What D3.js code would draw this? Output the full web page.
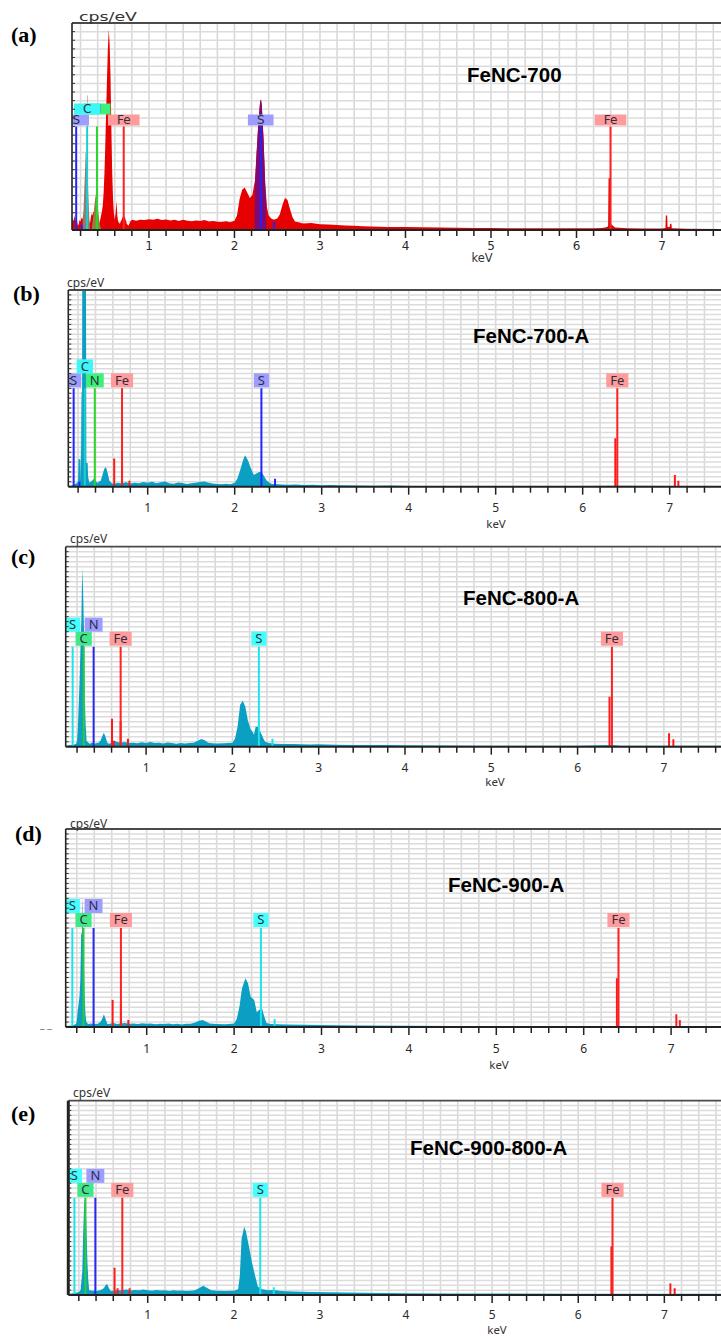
<!DOCTYPE html>
<html>
<head>
<meta charset="utf-8">
<script src="https://cdn.jsdelivr.net/npm/d3@7"></script>
<style>
  html, body { margin: 0; padding: 0; background: #fff; }
  svg { display: block; }
</style>
</head>
<body>
<svg id="chart" width="721" height="1336"></svg>
<script>
// EDS spectra of five FeNC samples, redrawn with D3.

// --- Data: spectra [keV, %] ---
const specA = [[0.10,3],[0.11,6],[0.12,4],[0.13,7],[0.14,5],[0.15,3],[0.16,4],[0.17,2],[0.18,3],[0.19,5],[0.20,4],[0.21,6],[0.22,5],[0.23,7],[0.24,8],[0.25,6],[0.26,5],[0.27,6],[0.28,7],[0.29,5],[0.30,4],[0.31,3],[0.32,6],[0.33,8],[0.34,7],[0.35,9],[0.36,8],[0.37,6],[0.38,5],[0.39,7],[0.40,5],[0.41,4],[0.42,3],[0.43,5],[0.44,7],[0.45,9],[0.46,12],[0.47,18],[0.48,28],[0.49,42],[0.50,58],[0.51,74],[0.52,88],[0.53,97],[0.54,90],[0.55,75],[0.56,50],[0.57,28],[0.58,15],[0.59,8],[0.60,5],[0.61,8],[0.62,14],[0.63,7],[0.64,4],[0.66,3],[0.68,5],[0.70,7],[0.72,6],[0.74,3],[0.76,2],[0.78,4],[0.80,5],[0.85,4.5],[0.90,5],[0.95,4.8],[1.00,5.2],[1.05,5],[1.10,5.4],[1.15,4.8],[1.20,5.1],[1.25,4.6],[1.30,5],[1.35,4.4],[1.40,4.9],[1.45,4.5],[1.50,4.2],[1.55,4.6],[1.60,4.3],[1.65,4.8],[1.70,4.1],[1.75,4.4],[1.80,4.0],[1.85,3.9],[1.90,4.2],[1.95,3.8],[2.00,4.5],[2.03,7],[2.06,15],[2.09,19.5],[2.12,20.5],[2.15,18],[2.18,15.5],[2.21,17],[2.24,24],[2.26,38],[2.28,52],[2.30,62],[2.31,63],[2.32,60],[2.34,44],[2.36,22],[2.38,11],[2.40,7],[2.43,5.5],[2.46,5],[2.50,5.5],[2.53,7.5],[2.56,12],[2.59,15.5],[2.62,14.5],[2.65,10],[2.68,6],[2.71,4],[2.75,3.8],[2.80,3.2],[2.90,3.4],[3.00,2.8],[3.10,2.6],[3.20,2.4],[3.30,2.2],[3.40,2.0],[3.50,1.8],[3.60,1.7],[3.80,1.5],[4.00,1.4],[4.20,1.3],[4.40,1.2],[4.60,1.1],[4.80,1.0],[5.00,1.0],[5.20,0.9],[5.50,0.9],[5.80,0.8],[6.00,0.8],[6.20,0.8],[6.30,1],[6.36,1.5],[6.37,2],[6.375,25],[6.395,25],[6.40,3],[6.45,1.2],[6.60,0.8],[6.80,0.7],[7.00,0.7],[7.04,1],[7.045,7],[7.06,7],[7.065,1.5],[7.09,1.5],[7.095,3],[7.11,3],[7.115,0.8],[7.30,0.6],[7.70,0.5]];
const sPeakA = [[2.235,0],[2.24,22],[2.26,38],[2.28,52],[2.30,62],[2.31,63],[2.32,60],[2.34,44],[2.36,22],[2.37,15],[2.375,0]];
const cPeakA = [[0.22,0],[0.235,10],[0.25,26],[0.26,38],[0.27,35],[0.278,28],[0.279,65],[0.285,65],[0.286,24],[0.29,18],[0.30,8],[0.31,0]];
const nPeakA = [[0.33,0],[0.35,7],[0.37,15],[0.385,18.5],[0.40,12],[0.42,4],[0.44,0]];

const specB = [[0.09,0.5],[0.12,0.5],[0.15,1],[0.17,1.5],[0.19,2],[0.20,3],[0.205,14],[0.225,14],[0.23,3],[0.235,48],[0.24,48],[0.245,10],[0.248,120],[0.29,120],[0.295,12],[0.31,12],[0.315,5],[0.33,2],[0.36,3],[0.38,4],[0.40,3],[0.42,2],[0.44,2.5],[0.46,3],[0.48,6],[0.50,9],[0.52,10],[0.54,7],[0.56,3],[0.58,2],[0.60,1.5],[0.62,1.5],[0.65,2],[0.70,1.8],[0.75,2.2],[0.80,1.6],[0.85,2],[0.90,1.8],[0.95,2.4],[1.00,2],[1.05,2.5],[1.10,1.8],[1.15,2.2],[1.20,2.6],[1.25,1.8],[1.30,1.5],[1.35,2.1],[1.40,1.9],[1.45,1.4],[1.50,1.7],[1.55,2],[1.60,2.4],[1.65,2.6],[1.70,2],[1.75,1.6],[1.80,1.4],[1.85,1.2],[1.90,1.5],[1.95,1.3],[2.00,2],[2.03,4],[2.06,8],[2.08,11],[2.10,14],[2.12,16],[2.14,14.5],[2.16,12.5],[2.18,10],[2.20,8],[2.22,6],[2.24,6.5],[2.26,7],[2.28,7.5],[2.31,7.5],[2.33,6],[2.35,4.4],[2.37,3],[2.40,2],[2.43,1.4],[2.50,1.2],[2.60,1],[2.70,1.1],[2.80,0.9],[2.90,1],[3.00,0.8],[3.10,0.9],[3.20,0.7],[3.40,0.6],[3.60,0.5],[3.80,0.6],[4.00,0.4],[4.50,0.4],[5.00,0.3],[6.00,0.3],[6.40,0.5],[7.00,0.3],[7.60,0.3]];

const specC = [[0.07,0.5],[0.12,0.8],[0.16,1],[0.19,1.5],[0.20,3],[0.21,10],[0.22,22],[0.23,34],[0.24,50],[0.25,64],[0.26,89.5],[0.27,78],[0.28,59],[0.29,24],[0.30,11],[0.31,3],[0.33,2],[0.35,1.5],[0.37,2],[0.40,1.5],[0.43,1.8],[0.45,2],[0.47,3],[0.49,5],[0.51,7],[0.53,5],[0.55,2],[0.57,1.5],[0.60,2],[0.63,3],[0.66,2.5],[0.70,2],[0.75,2.4],[0.80,1.8],[0.85,2],[0.90,1.7],[0.95,2.2],[1.00,1.9],[1.05,2.3],[1.10,1.8],[1.15,2],[1.20,1.6],[1.25,2.1],[1.30,1.8],[1.35,1.5],[1.40,1.9],[1.45,1.6],[1.50,1.8],[1.55,2],[1.60,3],[1.64,3.8],[1.68,3.2],[1.72,2],[1.80,1.6],[1.90,1.7],[2.00,2],[2.03,4],[2.06,10],[2.09,21],[2.12,23],[2.15,20],[2.18,13],[2.21,9],[2.24,7],[2.25,6],[2.27,10],[2.30,10],[2.32,8],[2.34,6],[2.36,4],[2.38,2.5],[2.42,1.8],[2.50,1.5],[2.60,1.4],[2.70,1.3],[2.80,1.2],[2.90,1.1],[3.00,1.2],[3.20,1],[3.40,0.9],[3.60,0.8],[3.80,0.9],[4.00,0.7],[4.50,0.6],[5.00,0.5],[5.50,0.5],[6.00,0.5],[6.40,0.8],[6.50,0.5],[7.00,0.5],[7.30,0.5],[7.70,0.5]];

const specD = [[0.07,0.5],[0.15,0.8],[0.19,1.5],[0.20,3],[0.21,8],[0.23,15],[0.24,23],[0.25,46.5],[0.26,48],[0.265,66],[0.27,56],[0.28,35],[0.29,16],[0.30,6],[0.31,2.5],[0.33,1.5],[0.36,1.8],[0.40,1.5],[0.44,1.6],[0.47,2.5],[0.49,4],[0.51,6.4],[0.53,4],[0.55,1.5],[0.58,1.6],[0.62,2],[0.66,1.5],[0.70,1.8],[0.75,2],[0.80,1.6],[0.85,1.8],[0.90,1.5],[0.95,1.9],[1.00,1.6],[1.05,1.8],[1.10,1.4],[1.15,1.7],[1.20,1.5],[1.25,1.8],[1.30,1.4],[1.35,1.6],[1.40,1.3],[1.45,1.6],[1.50,1.7],[1.55,2.2],[1.60,3.2],[1.64,3.5],[1.68,2.6],[1.72,1.8],[1.80,1.5],[1.90,1.4],[2.00,1.8],[2.03,4],[2.06,10],[2.09,19.5],[2.13,24.6],[2.16,22],[2.19,15.3],[2.23,13.6],[2.26,7.5],[2.28,8.5],[2.32,9.4],[2.34,6],[2.37,2],[2.42,1.5],[2.50,1.4],[2.60,1.2],[2.80,1.1],[3.00,1],[3.20,0.9],[3.50,0.8],[4.00,0.6],[4.50,0.5],[5.00,0.4],[6.00,0.4],[6.50,0.4],[7.00,0.4],[7.60,0.4]];

const specE = [[0.08,0.5],[0.15,1],[0.20,1.5],[0.22,2.5],[0.24,12],[0.25,31],[0.265,50.6],[0.285,39.5],[0.30,17],[0.31,7.7],[0.32,2.5],[0.36,2.2],[0.40,2],[0.45,2.5],[0.49,3.5],[0.51,5],[0.53,5.7],[0.55,3.5],[0.57,2],[0.60,2.2],[0.65,2.5],[0.70,2.4],[0.75,2.8],[0.80,2.3],[0.85,2.6],[0.90,2.4],[0.95,2.8],[1.00,2.5],[1.05,2.2],[1.10,2.6],[1.15,2.3],[1.20,2.5],[1.25,2.1],[1.30,2.4],[1.35,2.2],[1.40,2.3],[1.45,2],[1.50,2.2],[1.55,2.5],[1.60,3.6],[1.645,4.8],[1.69,3.6],[1.74,2.4],[1.80,2.2],[1.90,2],[2.00,2.2],[2.05,3],[2.07,10],[2.09,29],[2.12,35],[2.14,33],[2.18,24],[2.21,17],[2.25,9.4],[2.28,4.3],[2.33,3],[2.40,2.5],[2.47,2.6],[2.55,2],[2.70,1.8],[2.90,1.6],[3.10,1.4],[3.30,1.3],[3.50,1.1],[4.00,0.9],[4.50,0.8],[5.00,0.8],[6.00,0.7],[6.50,0.7],[7.00,0.6],[7.70,0.6]];

// --- Data: red Fe channels in the teal spectra [keV, %] ---
const feB = [[0.615,14.4],[0.705,12],[0.79,3],[6.375,24.6],[7.06,6],[7.10,3]];
const feC = [[0.605,14],[0.625,3],[0.705,12.5],[0.79,4],[6.37,25],[7.06,6.7],[7.11,3.7]];
const feD = [[0.61,13.6],[0.705,12],[0.79,3.5],[6.38,24.6],[7.06,6.4],[7.10,3.5]];
const feE = [[0.615,14],[0.65,3.5],[0.79,3.5],[6.385,25],[7.07,6],[7.12,3.5]];

// --- Data: element markers [element, keV, label row] ---
const markersA = [["S",0.149,0],["N",0.392,1],["C",0.277,1],["Fe",0.705,0],["S",2.307,0],["Fe",6.398,0]];
const markersB = [["S",0.149,0],["N",0.392,0],["C",0.277,1],["Fe",0.705,0],["S",2.307,0],["Fe",6.398,0]];
const markersCE = [["S",0.149,1],["N",0.392,1],["C",0.277,0],["Fe",0.705,0],["S",2.307,0],["Fe",6.398,0]];
// minor S lines shown as short stubs [keV, %]
const stubsAB = [[0.215,2.5],[2.464,4]];
const stubsCE = [[2.464,4]];

const tickLabels = ["1","2","3","4","5","6","7"];
const sampleNames = ["FeNC-700","FeNC-700-A","FeNC-800-A","FeNC-900-A","FeNC-900-800-A"];
const panelTags = ["(a)","(b)","(c)","(d)","(e)"];

// --- Styles ---
const W = 721;
const TEAL = "#0b9fc3";
const schemeAB = {
  S:  { box: "#9d9dff", line: "#2323ff" },
  C:  { box: "#3cf7f7", line: "#1ccfcf" },
  N:  { box: "#3cf07a", line: "#2ad62a" },
  Fe: { box: "#ff9b9b", line: "#ff2222" }
};
const schemeCE = {
  S:  { box: "#45ffff", line: "#1fe3ea" },
  C:  { box: "#40e88a", line: "#2bcc3a" },
  N:  { box: "#9d9dff", line: "#2a2aee" },
  Fe: { box: "#ff9b9b", line: "#ff2222" }
};

const panels = [
  { spec: specA, color: "#e60000", fe: [], markers: markersA, stubs: stubsAB, scheme: schemeAB,
    overlays: [{ data: cPeakA, color: "#8a7d73" }, { data: nPeakA, color: "#8f8340" }, { data: sPeakA, color: "#7e0a72" }],
    L: { left: 72, top: 23, bottom: 230, lo: 0.1, hi: 7.69, hDiv: 24, boxH: 11, pad: 9,
         font: "DejaVu Sans", fs: 12, tickY: 250, kev: [482, 262], cps: [79, 21, 58], tag: [11, 42], title: [467, 82], leftW: 1.6 } },
  { spec: specB, color: TEAL, fe: feB, markers: markersB, stubs: stubsAB, scheme: schemeAB, overlays: [],
    L: { left: 68.3, top: 290, bottom: 486.7, lo: 0.0874, hi: 7.590, hDiv: 40, boxH: 14, pad: 4,
         font: "Noto Sans", fs: 13, tickY: 512, kev: [496, 528], cps: [67, 287, 0], tag: [13, 301], title: [473, 343], leftW: 1.6 } },
  { spec: specC, color: TEAL, fe: feC, markers: markersCE, stubs: stubsCE, scheme: schemeCE, overlays: [],
    L: { left: 65.7, top: 546.7, bottom: 746.7, lo: 0.0684, hi: 7.662, hDiv: 40, boxH: 14, pad: 4,
         font: "Noto Sans", fs: 13, tickY: 772, kev: [495, 786], cps: [70, 543, 0], tag: [11, 564], title: [463, 605], leftW: 1.6 } },
  { spec: specD, color: TEAL, fe: feD, markers: markersCE, stubs: stubsCE, scheme: schemeCE, overlays: [],
    L: { left: 65.7, top: 829, bottom: 1027, lo: 0.0732, hi: 7.571, hDiv: 40, boxH: 14, pad: 4,
         font: "Noto Sans", fs: 13, tickY: 1053, kev: [499, 1069], cps: [70, 828, 0], tag: [15, 841], title: [448, 892], leftW: 1.6 } },
  { spec: specE, color: TEAL, fe: feE, markers: markersCE, stubs: stubsCE, scheme: schemeCE, overlays: [],
    L: { left: 68.3, top: 1100.7, bottom: 1295, lo: 0.0778, hi: 7.658, hDiv: 40, boxH: 14, pad: 4,
         font: "Noto Sans", fs: 13, tickY: 1319, kev: [497, 1334], cps: [73, 1097, 0], tag: [11, 1121], title: [410, 1155], leftW: 3 } }
];

const svg = d3.select("#chart");

function drawPanel(p, i) {
  const L = p.L;
  const g = svg.append("g").attr("class", "panel");
  const x = d3.scaleLinear().domain([L.lo, L.hi]).range([L.left, W]);
  const y = d3.scaleLinear().domain([0, 100]).range([L.bottom, L.top]);

  const clipId = "clip" + i;
  g.append("clipPath").attr("id", clipId).append("rect")
    .attr("x", L.left).attr("y", L.top)
    .attr("width", W - L.left).attr("height", L.bottom - L.top);
  const plot = g.append("g").attr("clip-path", `url(#${clipId})`);

  // grid: 0.2 keV verticals, even horizontals
  const steps = d3.range(Math.ceil(L.lo / 0.2), Math.floor(L.hi / 0.2) + 1).map(k => k * 0.2);
  plot.selectAll(".vg").data(steps).join("line")
    .attr("x1", d => x(d)).attr("x2", d => x(d))
    .attr("y1", L.top).attr("y2", L.bottom)
    .attr("stroke", "#d9d9d9").attr("stroke-width", 1.6);
  const hs = d3.range(1, L.hDiv).map(k => k * 100 / L.hDiv);
  plot.selectAll(".hg").data(hs).join("line")
    .attr("x1", L.left).attr("x2", W)
    .attr("y1", d => y(d)).attr("y2", d => y(d))
    .attr("stroke", "#dcdcdc").attr("stroke-width", 1.5);

  // spectrum and coloured peak fits
  const area = d3.area().x(d => x(d[0])).y0(y(0)).y1(d => y(d[1]));
  plot.append("path").datum(p.spec).attr("d", area).attr("fill", p.color);
  p.overlays.forEach(o => {
    plot.append("path").datum(o.data).attr("d", area).attr("fill", o.color);
  });

  // red Fe channels
  plot.selectAll(".fe").data(p.fe).join("line")
    .attr("x1", d => x(d[0])).attr("x2", d => x(d[0]))
    .attr("y1", y(0)).attr("y2", d => y(d[1]))
    .attr("stroke", "#ff1a1a").attr("stroke-width", 2);

  // element marker lines + minor stubs
  const lineTop = 50;
  plot.selectAll(".mk").data(p.markers).join("line")
    .attr("x1", d => x(d[1])).attr("x2", d => x(d[1]))
    .attr("y1", y(0)).attr("y2", y(lineTop))
    .attr("stroke", d => p.scheme[d[0]].line).attr("stroke-width", 2);
  plot.selectAll(".stub").data(p.stubs).join("line")
    .attr("x1", d => x(d[0])).attr("x2", d => x(d[0]))
    .attr("y1", y(0)).attr("y2", d => y(d[1]))
    .attr("stroke", p.scheme.S.line).attr("stroke-width", 2);

  // label boxes
  plot.selectAll(".lab").data(p.markers).join("g").each(function (d) {
    const gg = d3.select(this);
    const cx = x(d[1]);
    const yb = y(lineTop) - 1 - d[2] * L.boxH;
    const t = gg.append("text")
      .attr("x", cx).attr("y", yb - L.boxH * 0.18)
      .attr("text-anchor", "middle")
      .attr("font-family", L.font).attr("font-size", L.fs)
      .attr("fill", "#2e2e3e").text(d[0]);
    const w = t.node().getComputedTextLength() + 2 * L.pad;
    gg.insert("rect", "text")
      .attr("x", cx - w / 2).attr("y", yb - L.boxH)
      .attr("width", w).attr("height", L.boxH)
      .attr("fill", p.scheme[d[0]].box);
  });

  // frame
  g.append("line").attr("x1", L.left).attr("x2", W).attr("y1", L.top).attr("y2", L.top)
    .attr("stroke", "#4a4a4a").attr("stroke-width", 1.8);
  g.append("line").attr("x1", L.left).attr("x2", L.left).attr("y1", L.top).attr("y2", L.bottom)
    .attr("stroke", "#222").attr("stroke-width", L.leftW);
  g.selectAll(".lt").data(hs).join("line")
    .attr("x1", L.left).attr("x2", L.left + 3)
    .attr("y1", d => y(d)).attr("y2", d => y(d))
    .attr("stroke", "#333").attr("stroke-width", 1);

  // bottom axis
  g.append("line").attr("x1", L.left).attr("x2", W).attr("y1", L.bottom).attr("y2", L.bottom)
    .attr("stroke", "#222").attr("stroke-width", 2);
  const isMajor = d => Math.abs(d - Math.round(d)) < 1e-6;
  g.selectAll(".xt").data(steps).join("line")
    .attr("x1", d => x(d)).attr("x2", d => x(d))
    .attr("y1", L.bottom).attr("y2", d => L.bottom + (isMajor(d) ? 8 : 6))
    .attr("stroke", "#222").attr("stroke-width", 1.5);
  g.selectAll(".xl").data(tickLabels).join("text")
    .attr("x", d => x(+d)).attr("y", L.tickY)
    .attr("text-anchor", "middle")
    .attr("font-family", L.font).attr("font-size", 12)
    .attr("fill", "#2a2a2a").text(d => d);
  g.append("text").attr("x", L.kev[0]).attr("y", L.kev[1])
    .attr("text-anchor", "middle")
    .attr("font-family", L.font).attr("font-size", 11.5)
    .attr("fill", "#333").text("keV");

  const cps = g.append("text").attr("x", L.cps[0]).attr("y", L.cps[1])
    .attr("font-family", L.font).attr("font-size", 12)
    .attr("fill", "#333").text("cps/eV");
  if (L.cps[2]) cps.attr("textLength", L.cps[2]).attr("lengthAdjust", "spacingAndGlyphs");

  g.append("text").attr("x", L.title[0]).attr("y", L.title[1])
    .attr("font-family", "Liberation Sans, Arial, sans-serif").attr("font-weight", "bold")
    .attr("font-size", 20.5).attr("fill", "#000").text(sampleNames[i]);
  g.append("text").attr("x", L.tag[0]).attr("y", L.tag[1])
    .attr("font-family", "Liberation Serif, Times New Roman, serif").attr("font-weight", "bold")
    .attr("font-size", 22).attr("fill", "#000").text(panelTags[i]);
}

panels.forEach(drawPanel);

// stray mark left of panel (d)'s axis
svg.append("text").attr("x", 40).attr("y", 1036)
  .attr("font-family", "DejaVu Sans").attr("font-size", 9).attr("fill", "#555").text("‾ ‾");
</script>
</body>
</html>
